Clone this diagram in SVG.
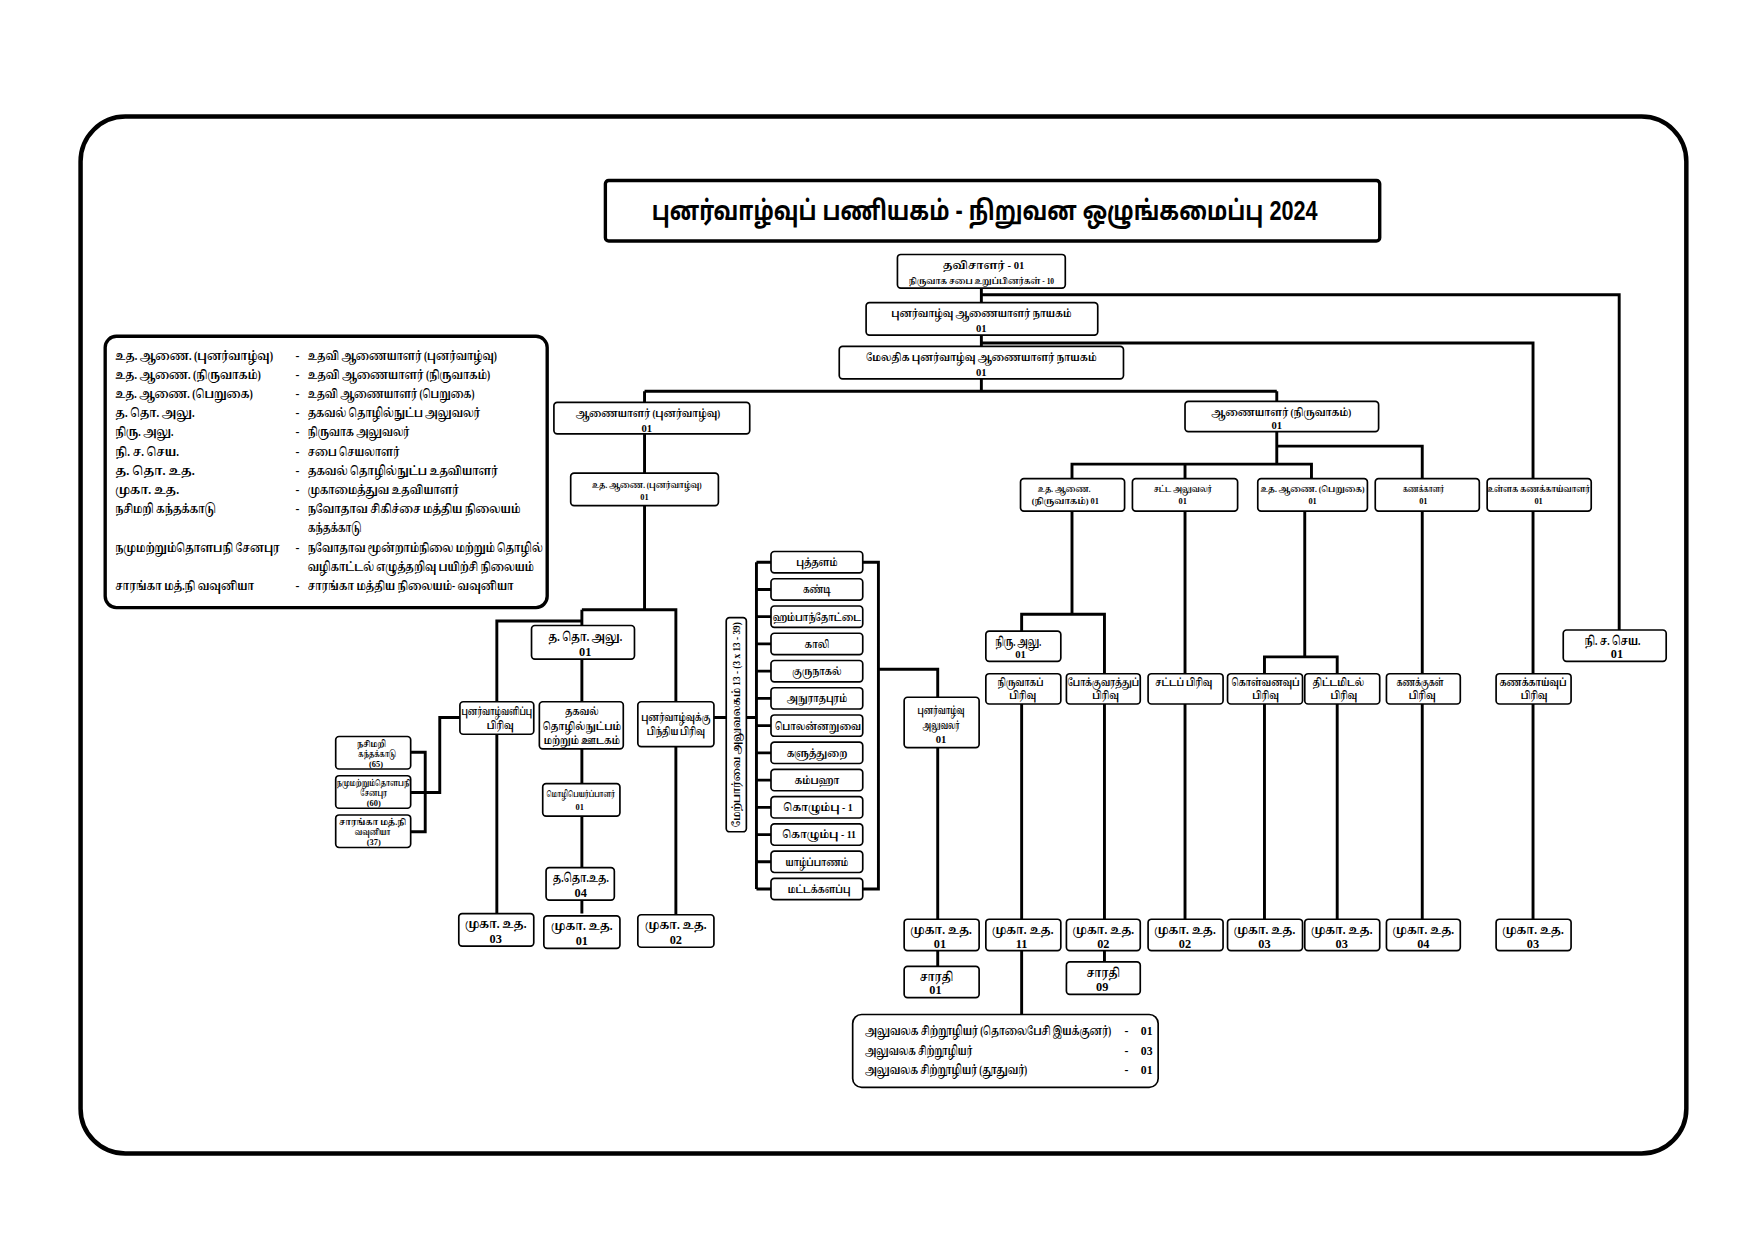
<svg xmlns="http://www.w3.org/2000/svg" width="1755" height="1241" viewBox="0 0 1755 1241">
<style>
.bx{fill:#fff;stroke:#000;stroke-width:1.5}
.c{fill:none;stroke:#000;stroke-width:2.6}
.t{font-family:"Liberation Serif","Noto Serif Tamil","Noto Sans Tamil","Lohit Tamil",serif;font-weight:bold;font-size:9.5px;text-anchor:middle;fill:#000}
.s{font-size:7.5px}
.m{font-size:11px}
.l{font-family:"Liberation Serif","Noto Serif Tamil","Noto Sans Tamil","Lohit Tamil",serif;font-weight:bold;font-size:10.5px;fill:#000}
</style>
<rect width="1755" height="1241" fill="#fff"/>
<g transform="scale(1.119 1.121)">
<rect x="72" y="104" width="1435" height="925" rx="40" fill="none" stroke="#000" stroke-width="4"/>
<g id="title"><rect x="541" y="161" width="692" height="54" rx="3" fill="#fff" stroke="#000" stroke-width="3"/>
<text x="880" y="196" textLength="595" lengthAdjust="spacingAndGlyphs" style="font-family:'Liberation Sans','Noto Sans Tamil','Lohit Tamil',sans-serif;font-weight:bold;font-size:24px;text-anchor:middle">புனர்வாழ்வுப் பணியகம் - நிறுவன ஒழுங்கமைப்பு 2024</text></g>

<g id="legend"><rect x="94" y="300" width="395" height="242" rx="10" fill="#fff" stroke="#000" stroke-width="3"/>
<text class="l" x="103" y="321" textLength="141" lengthAdjust="spacingAndGlyphs">உத. ஆணை. (புனர்வாழ்வு)</text><text class="l" x="264" y="321">-</text><text class="l" x="275" y="321" textLength="169" lengthAdjust="spacingAndGlyphs">உதவி ஆணையாளர் (புனர்வாழ்வு)</text>
<text class="l" x="103" y="338" textLength="130" lengthAdjust="spacingAndGlyphs">உத. ஆணை. (நிருவாகம்)</text><text class="l" x="264" y="338">-</text><text class="l" x="275" y="338" textLength="163" lengthAdjust="spacingAndGlyphs">உதவி ஆணையாளர் (நிருவாகம்)</text>
<text class="l" x="103" y="355" textLength="123" lengthAdjust="spacingAndGlyphs">உத. ஆணை. (பெறுகை)</text><text class="l" x="264" y="355">-</text><text class="l" x="275" y="355" textLength="149" lengthAdjust="spacingAndGlyphs">உதவி ஆணையாளர் (பெறுகை)</text>
<text class="l" x="103" y="372" textLength="71" lengthAdjust="spacingAndGlyphs">த. தொ. அலு.</text><text class="l" x="264" y="372">-</text><text class="l" x="275" y="372" textLength="154" lengthAdjust="spacingAndGlyphs">தகவல் தொழில்நுட்ப அலுவலர்</text>
<text class="l" x="103" y="389" textLength="52" lengthAdjust="spacingAndGlyphs">நிரு. அலு.</text><text class="l" x="264" y="389">-</text><text class="l" x="275" y="389" textLength="91" lengthAdjust="spacingAndGlyphs">நிருவாக அலுவலர்</text>
<text class="l" x="103" y="407" textLength="57" lengthAdjust="spacingAndGlyphs">நி. ச. செய.</text><text class="l" x="264" y="407">-</text><text class="l" x="275" y="407" textLength="82" lengthAdjust="spacingAndGlyphs">சபை செயலாளர்</text>
<text class="l" x="103" y="424" textLength="71" lengthAdjust="spacingAndGlyphs">த. தொ. உத.</text><text class="l" x="264" y="424">-</text><text class="l" x="275" y="424" textLength="170" lengthAdjust="spacingAndGlyphs">தகவல் தொழில்நுட்ப உதவியாளர்</text>
<text class="l" x="103" y="441" textLength="57" lengthAdjust="spacingAndGlyphs">முகா. உத.</text><text class="l" x="264" y="441">-</text><text class="l" x="275" y="441" textLength="135" lengthAdjust="spacingAndGlyphs">முகாமைத்துவ உதவியாளர்</text>
<text class="l" x="103" y="458" textLength="90" lengthAdjust="spacingAndGlyphs">நசிமறி கந்தக்காடு</text><text class="l" x="264" y="458">-</text><text class="l" x="275" y="458" textLength="190" lengthAdjust="spacingAndGlyphs">நவோதாவ சிகிச்சை மத்திய நிலையம்</text>
<text class="l" x="275" y="475" textLength="48" lengthAdjust="spacingAndGlyphs">கந்தக்காடு</text>
<text class="l" x="103" y="492" textLength="147" lengthAdjust="spacingAndGlyphs">நமுமற்றும்தொளபநி சேனபுர</text><text class="l" x="264" y="492">-</text><text class="l" x="275" y="492" textLength="210" lengthAdjust="spacingAndGlyphs">நவோதாவ மூன்றாம்நிலை மற்றும் தொழில்</text>
<text class="l" x="275" y="509" textLength="202" lengthAdjust="spacingAndGlyphs">வழிகாட்டல் எழுத்தறிவு பயிற்சி நிலையம்</text>
<text class="l" x="103" y="526" textLength="124" lengthAdjust="spacingAndGlyphs">சாரங்கா மத்.நி வவுனியா</text><text class="l" x="264" y="526">-</text><text class="l" x="275" y="526" textLength="184" lengthAdjust="spacingAndGlyphs">சாரங்கா மத்திய நிலையம்- வவுனியா</text>
</g>

<g id="connectors">
<path class="c" d="M877 257V349M877 263H1447V562M877 306H1370V428M576 349H1141M576 349V359M1141 349V358"/>
<path class="c" d="M576 387V422M576 451V544M520 544H604V626M520 544V558M520 554H444V626M520 588V626M520 668V699M520 728V774M520 803V815M444 655V815M604 666V816"/>
<path class="c" d="M367 671H380V742H367M367 707H393V640H411M638 640H649"/>
<path class="c" d="M667 640H676M676 501.5V793M676 501.5H689M676 525.8H689M676 550.1H689M676 574.4H689M676 598.7H689M676 623H689M676 647.3H689M676 671.6H689M676 695.9H689M676 720.2H689M676 744.5H689M676 768.8H689M676 793.1H689M771 501.5H785V793.1H771M785 597H838V622M838 667V820M838 848V862"/>
<path class="c" d="M1141 385V414M1141 398H1271V427M958 427V414H1172V427M1059 414V427"/>
<path class="c" d="M958 456V548M913 563V548H987V601M913 628V820M913 848V905M987 628V820M987 848V858M1059 456V601M1059 628V820M1166 456V586M1130 601V586H1195V601M1130 628V820M1195 628V820M1271 456V601M1271 628V820M1370 456V601M1370 628V820"/>
</g>

<g id="n_tav"><rect class="bx" x="802" y="227" width="150" height="30" rx="3"/><text class="t" x="879" y="240" textLength="73" lengthAdjust="spacingAndGlyphs">தவிசாளர் - 01</text><text class="t s" x="877" y="253" textLength="130" lengthAdjust="spacingAndGlyphs">நிருவாக சபை உறுப்பினர்கள் - 10</text></g>
<g id="n_gen"><rect class="bx" x="774" y="270" width="207" height="29" rx="3"/><text class="t" x="877" y="283" textLength="161" lengthAdjust="spacingAndGlyphs">புனர்வாழ்வு ஆணையாளர் நாயகம்</text><text class="t" x="877" y="296">01</text></g>
<g id="n_add"><rect class="bx" x="750" y="309" width="254" height="29" rx="3"/><text class="t" x="877" y="322" textLength="206" lengthAdjust="spacingAndGlyphs">மேலதிக புனர்வாழ்வு ஆணையாளர் நாயகம்</text><text class="t" x="877" y="335">01</text></g>
<g id="n_comr"><rect class="bx" x="495" y="359" width="175" height="28" rx="3"/><text class="t" x="579" y="372" textLength="129" lengthAdjust="spacingAndGlyphs">ஆணையாளர் (புனர்வாழ்வு)</text><text class="t" x="578" y="385">01</text></g>
<g id="n_coma"><rect class="bx" x="1059" y="358" width="173" height="27" rx="3"/><text class="t" x="1145" y="371" textLength="125" lengthAdjust="spacingAndGlyphs">ஆணையாளர் (நிருவாகம்)</text><text class="t" x="1141" y="383">01</text></g>
<g id="n_acr"><rect class="bx" x="510" y="422" width="132" height="29" rx="3"/><text class="t s" x="578" y="435" textLength="98" lengthAdjust="spacingAndGlyphs">உத. ஆணை. (புனர்வாழ்வு)</text><text class="t s" x="576" y="446">01</text></g>
<g id="n_itofficer"><rect class="bx" x="475" y="558" width="92" height="30" rx="3"/><text class="t m" x="523" y="572" textLength="66" lengthAdjust="spacingAndGlyphs">த. தொ. அலு.</text><text class="t m" x="523" y="585">01</text></g>
<g id="n_rehabdiv"><rect class="bx" x="411" y="626" width="66" height="29" rx="3"/><text class="t" x="444" y="638" textLength="63" lengthAdjust="spacingAndGlyphs">புனர்வாழ்வளிப்பு</text><text class="t" x="447" y="650" textLength="24" lengthAdjust="spacingAndGlyphs">பிரிவு</text></g>
<g id="n_itdiv"><rect class="bx" x="482" y="626" width="75" height="42" rx="3"/><text class="t" x="520" y="638" textLength="30" lengthAdjust="spacingAndGlyphs">தகவல்</text><text class="t" x="520" y="651" textLength="70" lengthAdjust="spacingAndGlyphs">தொழில்நுட்பம்</text><text class="t" x="520" y="664" textLength="68" lengthAdjust="spacingAndGlyphs">மற்றும் ஊடகம்</text></g>
<g id="n_post"><rect class="bx" x="570" y="626" width="68" height="40" rx="3"/><text class="t" x="604" y="643" textLength="62" lengthAdjust="spacingAndGlyphs">புனர்வாழ்வுக்கு</text><text class="t" x="604" y="656" textLength="52" lengthAdjust="spacingAndGlyphs">பிந்திய பிரிவு</text></g>
<g id="n_trans"><rect class="bx" x="485" y="699" width="69" height="29" rx="3"/><text class="t s" x="519" y="711" textLength="61" lengthAdjust="spacingAndGlyphs">மொழிபெயர்ப்பாளர்</text><text class="t s" x="518" y="723">01</text></g>
<g id="n_ita"><rect class="bx" x="488" y="774" width="61" height="29" rx="3"/><text class="t m" x="519" y="787" textLength="50" lengthAdjust="spacingAndGlyphs">த.தொ.உத.</text><text class="t m" x="519" y="800">04</text></g>
<g id="n_nas"><rect class="bx" x="300" y="657" width="67" height="29" rx="3"/><text class="t s" x="332" y="666" textLength="26" lengthAdjust="spacingAndGlyphs">நசிமறி</text><text class="t s" x="337" y="675" textLength="34" lengthAdjust="spacingAndGlyphs">கந்தக்காடு</text><text class="t s" x="336" y="684">(65)</text></g>
<g id="n_nam"><rect class="bx" x="300" y="692" width="67" height="29" rx="3"/><text class="t s" x="334" y="701" textLength="66" lengthAdjust="spacingAndGlyphs">நமுமற்றும்தொளபநி</text><text class="t s" x="334" y="710" textLength="24" lengthAdjust="spacingAndGlyphs">சேனபுர</text><text class="t s" x="334" y="719">(60)</text></g>
<g id="n_sar"><rect class="bx" x="300" y="727" width="67" height="29" rx="3"/><text class="t s" x="333" y="736" textLength="60" lengthAdjust="spacingAndGlyphs">சாரங்கா மத்.நி</text><text class="t s" x="333" y="745" textLength="32" lengthAdjust="spacingAndGlyphs">வவுனியா</text><text class="t s" x="334" y="754">(37)</text></g>
<g id="n_mk03a"><rect class="bx" x="410" y="815" width="67" height="29" rx="3"/><text class="t m" x="443" y="828" textLength="55" lengthAdjust="spacingAndGlyphs">முகா. உத.</text><text class="t m" x="443" y="841">03</text></g>
<g id="n_mk01a"><rect class="bx" x="486" y="817" width="68" height="29" rx="3"/><text class="t m" x="520" y="830" textLength="55" lengthAdjust="spacingAndGlyphs">முகா. உத.</text><text class="t m" x="520" y="843">01</text></g>
<g id="n_mk02a"><rect class="bx" x="570" y="816" width="68" height="29" rx="3"/><text class="t m" x="604" y="829" textLength="55" lengthAdjust="spacingAndGlyphs">முகா. உத.</text><text class="t m" x="604" y="842">02</text></g>
<g id="n_sup"><rect class="bx" x="649" y="551" width="18" height="191" rx="3"/><text class="t" transform="translate(661.5 646.5) rotate(-90)" textLength="183" lengthAdjust="spacingAndGlyphs">மேற்பார்வை அலுவலகம் 13 - (3 x 13 - 39)</text></g>
<g id="n_d1"><rect class="bx" x="689" y="492" width="82" height="19" rx="3"/><text class="t" x="730" y="505" textLength="37" lengthAdjust="spacingAndGlyphs">புத்தளம்</text></g>
<g id="n_d2"><rect class="bx" x="689" y="516.3" width="82" height="19" rx="3"/><text class="t" x="730" y="529.3" textLength="25" lengthAdjust="spacingAndGlyphs">கண்டி</text></g>
<g id="n_d3"><rect class="bx" x="689" y="540.6" width="82" height="19" rx="3"/><text class="t" x="730" y="553.6" textLength="79" lengthAdjust="spacingAndGlyphs">ஹம்பாந்தோட்டை</text></g>
<g id="n_d4"><rect class="bx" x="689" y="564.9" width="82" height="19" rx="3"/><text class="t" x="730" y="577.9" textLength="22" lengthAdjust="spacingAndGlyphs">காலி</text></g>
<g id="n_d5"><rect class="bx" x="689" y="589.2" width="82" height="19" rx="3"/><text class="t" x="730" y="602.2" textLength="44" lengthAdjust="spacingAndGlyphs">குருநாகல்</text></g>
<g id="n_d6"><rect class="bx" x="689" y="613.5" width="82" height="19" rx="3"/><text class="t" x="730" y="626.5" textLength="54" lengthAdjust="spacingAndGlyphs">அநுராதபுரம்</text></g>
<g id="n_d7"><rect class="bx" x="689" y="637.8" width="82" height="19" rx="3"/><text class="t" x="731" y="650.8" textLength="77" lengthAdjust="spacingAndGlyphs">பொலன்னறுவை</text></g>
<g id="n_d8"><rect class="bx" x="689" y="662.1" width="82" height="19" rx="3"/><text class="t" x="730" y="675.1" textLength="54" lengthAdjust="spacingAndGlyphs">களுத்துறை</text></g>
<g id="n_d9"><rect class="bx" x="689" y="686.4" width="82" height="19" rx="3"/><text class="t" x="730" y="699.4" textLength="40" lengthAdjust="spacingAndGlyphs">கம்பஹா</text></g>
<g id="n_d10"><rect class="bx" x="689" y="710.7" width="82" height="19" rx="3"/><text class="t" x="731" y="723.7" textLength="62" lengthAdjust="spacingAndGlyphs">கொழும்பு - 1</text></g>
<g id="n_d11"><rect class="bx" x="689" y="735" width="82" height="19" rx="3"/><text class="t" x="732" y="748" textLength="66" lengthAdjust="spacingAndGlyphs">கொழும்பு - 11</text></g>
<g id="n_d12"><rect class="bx" x="689" y="759.3" width="82" height="19" rx="3"/><text class="t" x="730" y="772.3" textLength="56" lengthAdjust="spacingAndGlyphs">யாழ்ப்பாணம்</text></g>
<g id="n_d13"><rect class="bx" x="689" y="783.6" width="82" height="19" rx="3"/><text class="t" x="732" y="796.6" textLength="56" lengthAdjust="spacingAndGlyphs">மட்டக்களப்பு</text></g>
<g id="n_ro"><rect class="bx" x="808" y="622" width="67" height="45" rx="3"/><text class="t" x="841" y="637" textLength="42" lengthAdjust="spacingAndGlyphs">புனர்வாழ்வு</text><text class="t" x="841" y="650" textLength="33" lengthAdjust="spacingAndGlyphs">அலுவலர்</text><text class="t" x="841" y="663">01</text></g>
<g id="n_mk01b"><rect class="bx" x="808" y="820" width="67" height="28" rx="3"/><text class="t m" x="841" y="833" textLength="55" lengthAdjust="spacingAndGlyphs">முகா. உத.</text><text class="t m" x="840" y="846">01</text></g>
<g id="n_dr01"><rect class="bx" x="808" y="862" width="67" height="28" rx="3"/><text class="t m" x="837" y="875" textLength="30" lengthAdjust="spacingAndGlyphs">சாரதி</text><text class="t m" x="836" y="887">01</text></g>
<g id="n_aca"><rect class="bx" x="912" y="427" width="93" height="29" rx="3"/><text class="t s" x="951" y="439" textLength="47" lengthAdjust="spacingAndGlyphs">உத. ஆணை.</text><text class="t s" x="952" y="450" textLength="60" lengthAdjust="spacingAndGlyphs">(நிருவாகம்) 01</text></g>
<g id="n_lo"><rect class="bx" x="1012" y="427" width="94" height="29" rx="3"/><text class="t s" x="1057" y="439" textLength="52" lengthAdjust="spacingAndGlyphs">சட்ட அலுவலர்</text><text class="t s" x="1057" y="450">01</text></g>
<g id="n_acp"><rect class="bx" x="1124" y="427" width="98" height="29" rx="3"/><text class="t s" x="1173" y="439" textLength="93" lengthAdjust="spacingAndGlyphs">உத. ஆணை. (பெறுகை)</text><text class="t s" x="1173" y="450">01</text></g>
<g id="n_acc"><rect class="bx" x="1229" y="427" width="93" height="29" rx="3"/><text class="t s" x="1272" y="439" textLength="37" lengthAdjust="spacingAndGlyphs">கணக்காளர்</text><text class="t s" x="1272" y="450">01</text></g>
<g id="n_ia"><rect class="bx" x="1329" y="427" width="93" height="29" rx="3"/><text class="t s" x="1375" y="439" textLength="92" lengthAdjust="spacingAndGlyphs">உள்ளக கணக்காய்வாளர்</text><text class="t s" x="1375" y="450">01</text></g>
<g id="n_ao"><rect class="bx" x="881" y="563" width="67" height="27" rx="3"/><text class="t m" x="910" y="576" textLength="41" lengthAdjust="spacingAndGlyphs">நிரு. அலு.</text><text class="t" x="912" y="587">01</text></g>
<g id="n_adm"><rect class="bx" x="881" y="601" width="67" height="27" rx="3"/><text class="t" x="912" y="612" textLength="41" lengthAdjust="spacingAndGlyphs">நிருவாகப்</text><text class="t" x="914" y="624" textLength="24" lengthAdjust="spacingAndGlyphs">பிரிவு</text></g>
<g id="n_tr"><rect class="bx" x="953" y="601" width="66" height="27" rx="3"/><text class="t" x="986" y="612" textLength="64" lengthAdjust="spacingAndGlyphs">போக்குவரத்துப்</text><text class="t" x="988" y="624" textLength="24" lengthAdjust="spacingAndGlyphs">பிரிவு</text></g>
<g id="n_leg"><rect class="bx" x="1026" y="601" width="67" height="27" rx="3"/><text class="t" x="1058" y="612" textLength="51" lengthAdjust="spacingAndGlyphs">சட்டப் பிரிவு</text></g>
<g id="n_pro"><rect class="bx" x="1097" y="601" width="67" height="27" rx="3"/><text class="t" x="1131" y="612" textLength="61" lengthAdjust="spacingAndGlyphs">கொள்வனவுப்</text><text class="t" x="1131" y="624" textLength="24" lengthAdjust="spacingAndGlyphs">பிரிவு</text></g>
<g id="n_pl"><rect class="bx" x="1166" y="601" width="67" height="27" rx="3"/><text class="t" x="1196" y="612" textLength="46" lengthAdjust="spacingAndGlyphs">திட்டமிடல்</text><text class="t" x="1201" y="624" textLength="24" lengthAdjust="spacingAndGlyphs">பிரிவு</text></g>
<g id="n_ac"><rect class="bx" x="1239" y="601" width="66" height="27" rx="3"/><text class="t" x="1269" y="612" textLength="42" lengthAdjust="spacingAndGlyphs">கணக்குகள்</text><text class="t" x="1271" y="624" textLength="24" lengthAdjust="spacingAndGlyphs">பிரிவு</text></g>
<g id="n_au"><rect class="bx" x="1337" y="601" width="67" height="27" rx="3"/><text class="t" x="1370" y="612" textLength="60" lengthAdjust="spacingAndGlyphs">கணக்காய்வுப்</text><text class="t" x="1371" y="624" textLength="24" lengthAdjust="spacingAndGlyphs">பிரிவு</text></g>
<g id="n_bs"><rect class="bx" x="1397" y="562" width="92" height="28" rx="3"/><text class="t m" x="1441" y="575" textLength="50" lengthAdjust="spacingAndGlyphs">நி. ச. செய.</text><text class="t m" x="1445" y="587">01</text></g>
<g id="n_mk11"><rect class="bx" x="881" y="820" width="67" height="28" rx="3"/><text class="t m" x="914" y="833" textLength="55" lengthAdjust="spacingAndGlyphs">முகா. உத.</text><text class="t m" x="913" y="846">11</text></g>
<g id="n_mk02b"><rect class="bx" x="953" y="820" width="66" height="28" rx="3"/><text class="t m" x="986" y="833" textLength="55" lengthAdjust="spacingAndGlyphs">முகா. உத.</text><text class="t m" x="986" y="846">02</text></g>
<g id="n_mk02c"><rect class="bx" x="1026" y="820" width="67" height="28" rx="3"/><text class="t m" x="1059" y="833" textLength="55" lengthAdjust="spacingAndGlyphs">முகா. உத.</text><text class="t m" x="1059" y="846">02</text></g>
<g id="n_mk03b"><rect class="bx" x="1097" y="820" width="67" height="28" rx="3"/><text class="t m" x="1130" y="833" textLength="55" lengthAdjust="spacingAndGlyphs">முகா. உத.</text><text class="t m" x="1130" y="846">03</text></g>
<g id="n_mk03c"><rect class="bx" x="1166" y="820" width="67" height="28" rx="3"/><text class="t m" x="1199" y="833" textLength="55" lengthAdjust="spacingAndGlyphs">முகா. உத.</text><text class="t m" x="1199" y="846">03</text></g>
<g id="n_mk04"><rect class="bx" x="1239" y="820" width="66" height="28" rx="3"/><text class="t m" x="1272" y="833" textLength="55" lengthAdjust="spacingAndGlyphs">முகா. உத.</text><text class="t m" x="1272" y="846">04</text></g>
<g id="n_mk03d"><rect class="bx" x="1337" y="820" width="67" height="28" rx="3"/><text class="t m" x="1370" y="833" textLength="55" lengthAdjust="spacingAndGlyphs">முகா. உத.</text><text class="t m" x="1370" y="846">03</text></g>
<g id="n_dr09"><rect class="bx" x="953" y="858" width="66" height="29" rx="3"/><text class="t m" x="986" y="872" textLength="30" lengthAdjust="spacingAndGlyphs">சாரதி</text><text class="t m" x="985" y="884">09</text></g>
<g id="n_staff"><rect class="bx" x="762" y="905" width="273" height="65" rx="8"/>
<text class="l" x="773" y="923" textLength="220" lengthAdjust="spacingAndGlyphs">அலுவலக சிற்றூழியர் (தொலைபேசி இயக்குனர்)</text><text class="l" x="1005" y="923">-</text><text class="l" x="1030" y="923" text-anchor="end">01</text>
<text class="l" x="773" y="941" textLength="96" lengthAdjust="spacingAndGlyphs">அலுவலக சிற்றூழியர்</text><text class="l" x="1005" y="941">-</text><text class="l" x="1030" y="941" text-anchor="end">03</text>
<text class="l" x="773" y="958" textLength="145" lengthAdjust="spacingAndGlyphs">அலுவலக சிற்றூழியர் (தூதுவர்)</text><text class="l" x="1005" y="958">-</text><text class="l" x="1030" y="958" text-anchor="end">01</text></g>
</g>
</svg>
